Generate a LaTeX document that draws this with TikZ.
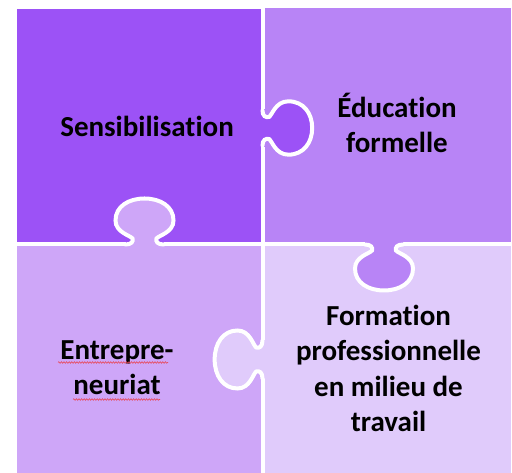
\documentclass[tikz,border=0pt]{standalone}
\usepackage{fontspec}
\setmainfont{Carlito}[Ligatures=NoCommon]
\usetikzlibrary{decorations.pathmorphing}

\definecolor{pieceA}{RGB}{156,82,246}
\definecolor{pieceB}{RGB}{184,132,246}
\definecolor{pieceC}{RGB}{206,166,248}
\definecolor{pieceD}{RGB}{224,203,251}
\definecolor{spellred}{RGB}{232,72,88}

\tikzset{
  seam/.style={white, line width=4pt},
  piecetext/.style={font=\fontsize{29}{35.5}\selectfont\bfseries, align=center, inner sep=0pt, text=black},
  squiggle/.style={spellred, line width=0.6pt, decorate,
    decoration={snake, amplitude=0.8pt, segment length=2.6pt}},
  % a puzzle tab: neck on the local u axis, knob towards +v
  pics/knob/.style={code={
    \fill[#1] (-19,-3) -- (-19,0)
      .. controls (-13,0) and (-11,3) .. (-12,6)
      .. controls (-14,9) and (-29,12) .. (-29,24)
      .. controls (-29,38) and (-16,46) .. (0,46)
      .. controls (16,46) and (29,38) .. (29,24)
      .. controls (29,12) and (14,9) .. (12,6)
      .. controls (11,3) and (13,0) .. (19,0) -- (19,-3) -- cycle;
    \draw[seam, line cap=round] (-19,0)
      .. controls (-13,0) and (-11,3) .. (-12,6)
      .. controls (-14,9) and (-29,12) .. (-29,24)
      .. controls (-29,38) and (-16,46) .. (0,46)
      .. controls (16,46) and (29,38) .. (29,24)
      .. controls (29,12) and (14,9) .. (12,6)
      .. controls (11,3) and (13,0) .. (19,0);
  }},
}

\begin{document}
\begin{tikzpicture}[x=1pt, y=1pt]
  \useasboundingbox (0,0) rectangle (512,473);
  \fill[white] (0,0) rectangle (512,473);

  % the four square cells
  \fill[pieceA] (17,228.5) rectangle (262.5,463.7);
  \fill[pieceB] (262.5,228.5) rectangle (510.5,464.7);
  \fill[pieceC] (16.7,-2) rectangle (262.5,228.5);
  \fill[pieceD] (262.5,-2) rectangle (510.5,228.5);

  % white seams between the cells, open where a tab passes
  \draw[seam] (262.5,466) -- (262.5,364);
  \draw[seam] (262.5,326) -- (262.5,132.5);
  \draw[seam] (262.5,94.5) -- (262.5,-3);
  \draw[seam] (15,228.5) -- (125.5,228.5);
  \draw[seam] (163.5,228.5) -- (365,228.5);
  \draw[seam] (403,228.5) -- (513,228.5);

  % tabs
  \pic[rotate=-90, xscale=0.92, yscale=1.08] at (262.5,345) {knob=pieceA};
  \pic at (144.5,228.5) {knob=pieceC};
  \pic[rotate=180] at (384,228.5) {knob=pieceB};
  \pic[rotate=90, yscale=1.04] at (262.5,113.5) {knob=pieceD};

  % texts (base anchor sits on the last line)
  \node[piecetext, anchor=base] (aware) at (147,336) {Sensibilisation};
  \node[piecetext, anchor=base] (formal) at (397,320) {Éducation\\formelle};
  \node[piecetext, anchor=base] (entre) at (117,78) {Entrepre-\\neuriat};
  \node[piecetext, anchor=base] (work) at (388.5,41) {Formation\\professionnelle\\en milieu de\\travail};

  % spell-check underlines
  \draw[squiggle] (58,110.5) -- (168,110.5);
  \draw[squiggle] (73,73.5) -- (160,73.5);
\end{tikzpicture}
\end{document}
